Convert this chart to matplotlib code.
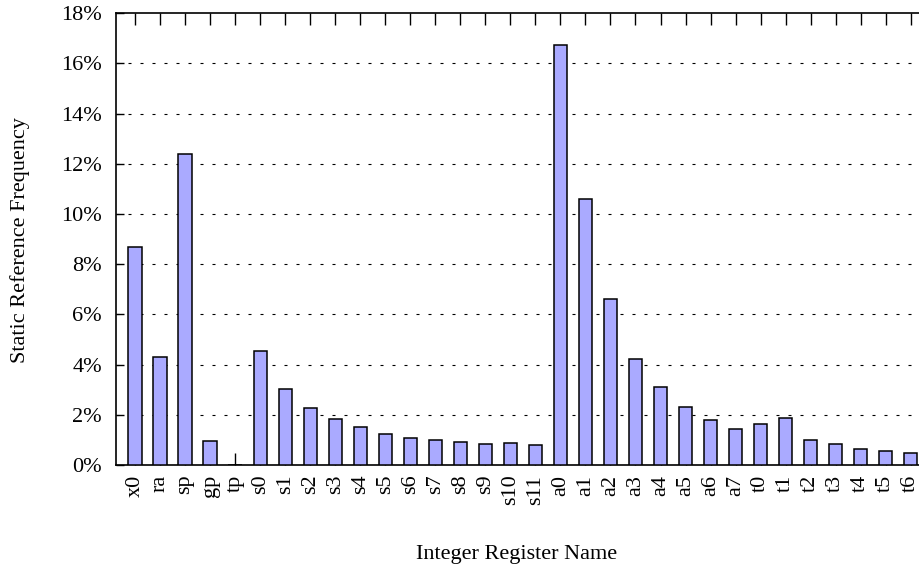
import matplotlib
matplotlib.use("Agg")
import matplotlib.pyplot as plt
from matplotlib.ticker import FuncFormatter

registers = ["x0", "ra", "sp", "gp", "tp", "s0", "s1", "s2", "s3", "s4", "s5",
             "s6", "s7", "s8", "s9", "s10", "s11", "a0", "a1", "a2", "a3", "a4",
             "a5", "a6", "a7", "t0", "t1", "t2", "t3", "t4", "t5", "t6"]
frequency = [8.70, 4.29, 12.39, 0.97, 0.0, 4.55, 3.03, 2.27, 1.82, 1.53, 1.25,
             1.09, 0.98, 0.93, 0.82, 0.86, 0.80, 16.75, 10.59, 6.61, 4.21, 3.10,
             2.30, 1.79, 1.42, 1.63, 1.86, 1.00, 0.84, 0.64, 0.57, 0.47]
yticks = [0, 2, 4, 6, 8, 10, 12, 14, 16, 18]

plt.rcParams['font.family'] = ['Liberation Serif', 'DejaVu Serif']

fig = plt.figure(figsize=(9.2, 5.7), dpi=100)
ax = fig.add_axes([116/920, 105/570, 1 - 116/920, (465-13.3)/570])

x = list(range(len(registers)))
ax.bar(x, frequency, width=0.53, color="#aaaaff", edgecolor="black",
       linewidth=1.1, zorder=3)

ax.set_xlim(-0.76, 31.37)
ax.set_ylim(0, 18)
ax.set_yticks(yticks)
ax.yaxis.set_major_formatter(FuncFormatter(lambda v, p: f"{v:.0f}%"))
ax.set_xticks(x)
ax.set_xticklabels(registers, rotation=90, fontsize=16)
ax.tick_params(axis='y', labelsize=16, direction='in', length=6, width=1,
               pad=10)
ax.tick_params(axis='x', direction='in', length=8.6, width=1, pad=7,
               top=True, bottom=True)
for yv in yticks[1:-1]:
    ax.axhline(yv, color="black", linewidth=0.8, linestyle=(0, (2.7, 8.1)),
               zorder=1)
for s in ["left", "top", "bottom"]:
    ax.spines[s].set_linewidth(1.2)
ax.spines["right"].set_visible(False)

fig.text(20/920, 1 - 240/570, "Static Reference Frequency", rotation=90,
         ha="center", va="center", fontsize=16)
fig.text(517/920, 1 - 555/570, "Integer Register Name", ha="center",
         va="center", fontsize=16)

fig.savefig("out.png", dpi=100)
